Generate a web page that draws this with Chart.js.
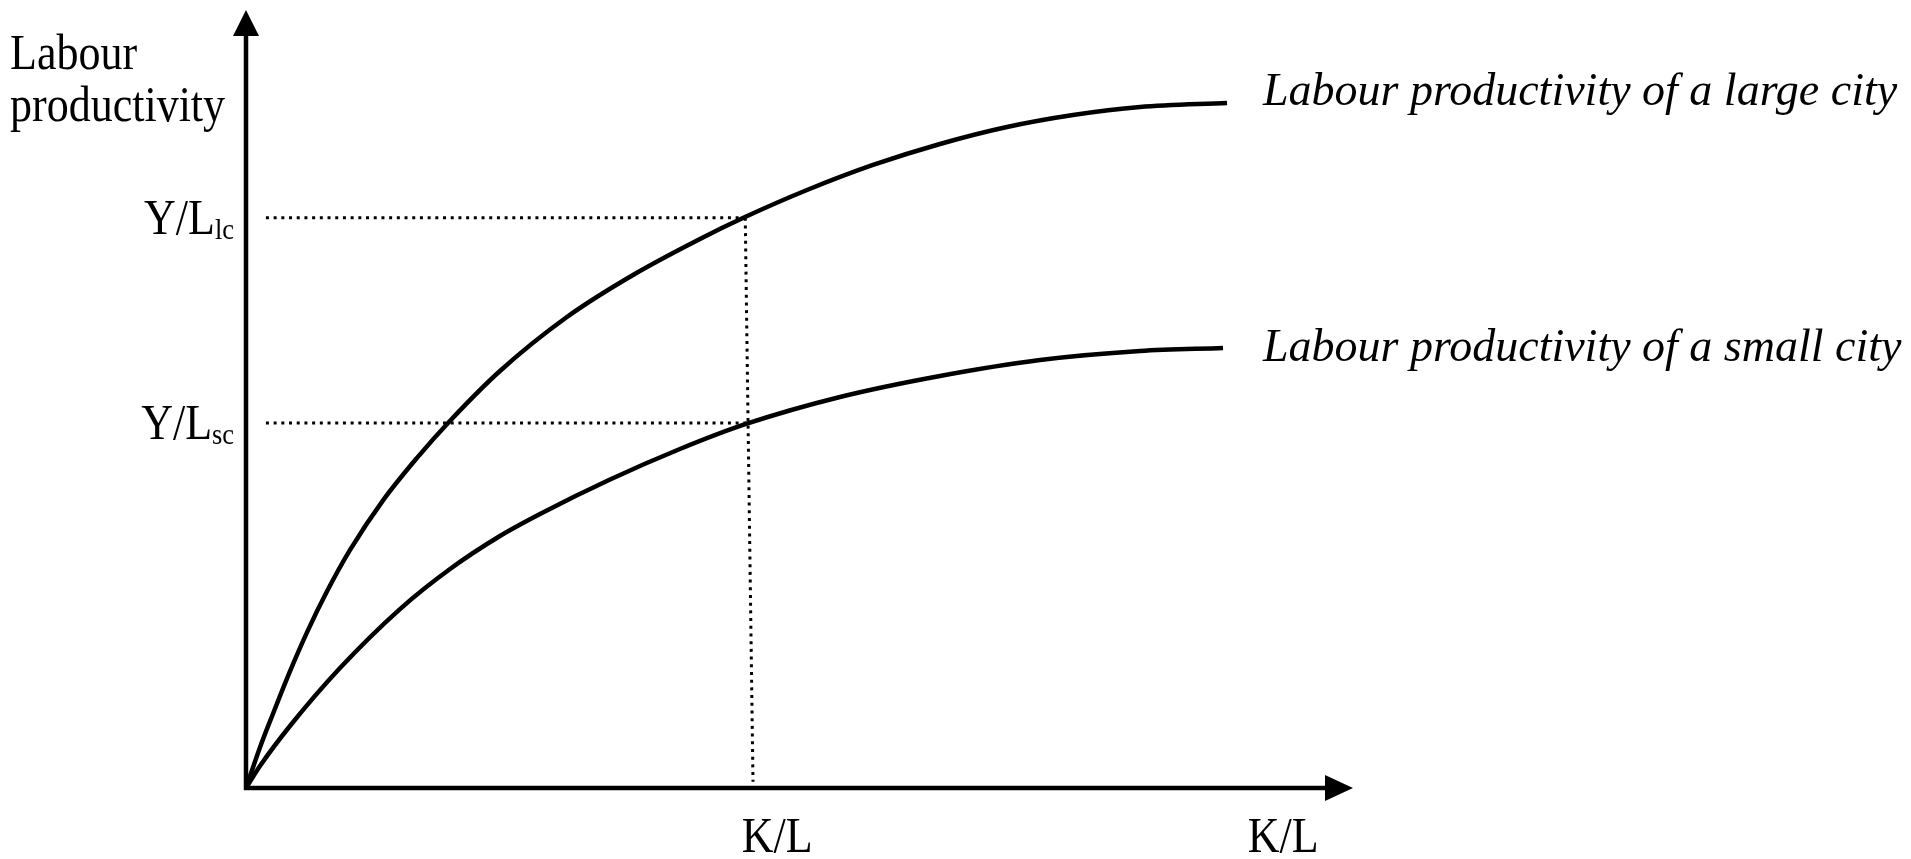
<!DOCTYPE html>
<html>
<head>
<meta charset="utf-8">
<script src="https://cdn.jsdelivr.net/npm/chart.js@4.4.1/dist/chart.umd.min.js"></script>
<style>
  html, body { margin: 0; padding: 0; background: #fff; }
  #wrap { width: 1911px; height: 859px; position: relative; }
</style>
</head>
<body>
<div id="wrap"><canvas id="myChart"></canvas></div>
<script>
// ---------- data (axis units 0..100) ----------
const largeCityX = [0, 1.26, 2.44, 3.97, 5.51, 7.32, 9.40, 12.38, 15.45, 18.25, 22.94, 28.99, 34.96, 41.01, 45.08, 50.68, 56.64, 62.69, 68.74, 74.71, 80.76, 88.62];
const largeCityY = [0, 5.21, 9.55, 14.99, 20.01, 25.28, 30.6, 36.97, 42.43, 46.92, 53.6, 60.54, 65.94, 70.57, 73.39, 76.86, 80.08, 82.78, 84.96, 86.5, 87.53, 88.05];

const smallCityX = [0, 1.26, 3.97, 8.49, 13.91, 18.43, 22.94, 26.56, 32.79, 39.20, 45.17, 53.66, 62.69, 71.73, 80.76, 88.26];
const smallCityY = [0, 2.83, 7.97, 15.42, 23.0, 28.15, 32.39, 35.22, 39.59, 43.57, 46.79, 50.26, 52.96, 55.01, 56.17, 56.56];

const curveLabels = ["Labour productivity of a large city", "Labour productivity of a small city"];

// y "ticks" where the dotted guides meet the axis
const yTickValues = [73.3, 46.9];
const yTickMain = ["Y/L", "Y/L"];
const yTickSub = ["lc", "sc"];

// capital per worker marked on the x axis
const klValue = 45.1;
const xTickLabel = "K/L";
const xAxisTitle = "K/L";
const yAxisTitle = ["Labour", "productivity"];

const toPoints = (xs, ys) => xs.map((x, i) => ({ x: x, y: ys[i] }));

const FONT = '"Liberation Serif", "Times New Roman", serif';

function drawText(ctx, text, x, y, size, opts) {
  opts = opts || {};
  ctx.save();
  ctx.font = (opts.italic ? "italic " : "") + size + "px " + FONT;
  ctx.fillStyle = "#000";
  ctx.textBaseline = "alphabetic";
  ctx.textAlign = opts.align || "left";
  ctx.translate(x, y);
  ctx.scale(opts.sx || 1, 1);
  ctx.fillText(text, 0, 0);
  ctx.restore();
}

function textWidth(ctx, text, size, opts) {
  opts = opts || {};
  ctx.save();
  ctx.font = (opts.italic ? "italic " : "") + size + "px " + FONT;
  const w = ctx.measureText(text).width * (opts.sx || 1);
  ctx.restore();
  return w;
}

// axes with arrow heads and all the text
const diagramPlugin = {
  id: "diagram",
  afterDatasetsDraw(chart) {
    const ctx = chart.ctx;
    const xs = chart.scales.x;
    const ys = chart.scales.y;
    const ox = xs.getPixelForValue(0);
    const oy = ys.getPixelForValue(0);
    const topY = ys.getPixelForValue(100);
    const rightX = xs.getPixelForValue(100);

    ctx.save();
    ctx.strokeStyle = "#000";
    ctx.fillStyle = "#000";
    ctx.lineWidth = 4.5;
    ctx.lineCap = "butt";
    ctx.beginPath();
    ctx.moveTo(ox, oy + 2);
    ctx.lineTo(ox, topY + 24);
    ctx.moveTo(ox - 2, oy);
    ctx.lineTo(rightX - 26, oy);
    ctx.stroke();

    // arrow heads
    ctx.beginPath();
    ctx.moveTo(ox, topY);
    ctx.lineTo(ox - 13, topY + 26);
    ctx.lineTo(ox + 13, topY + 26);
    ctx.closePath();
    ctx.fill();

    ctx.beginPath();
    ctx.moveTo(rightX, oy);
    ctx.lineTo(rightX - 28, oy - 13);
    ctx.lineTo(rightX - 28, oy + 13);
    ctx.closePath();
    ctx.fill();
    ctx.restore();

    const up = { sx: 0.88 };
    const upSize = 50;

    // y axis title
    drawText(ctx, yAxisTitle[0], 10, 69, upSize, up);
    drawText(ctx, yAxisTitle[1], 10, 121, upSize, up);

    // y ticks with subscripts
    yTickValues.forEach((v, i) => {
      const py = ys.getPixelForValue(v);
      const right = ox - 12;
      const subW = textWidth(ctx, yTickSub[i], 30, up);
      drawText(ctx, yTickSub[i], right - subW, py + 21, 30, up);
      drawText(ctx, yTickMain[i], right - subW, py + 16, upSize, { sx: 0.88, align: "right" });
    });

    // x tick and title
    drawText(ctx, xTickLabel, xs.getPixelForValue(klValue) + 32, 852, upSize, { sx: 0.88, align: "center" });
    drawText(ctx, xAxisTitle, xs.getPixelForValue(93.7), 852, upSize, { sx: 0.88, align: "center" });

    // curve labels
    const lastL = largeCityX.length - 1;
    const lastS = smallCityX.length - 1;
    drawText(ctx, curveLabels[0], xs.getPixelForValue(largeCityX[lastL]) + 36, ys.getPixelForValue(largeCityY[lastL]) + 2, 46, { italic: true });
    drawText(ctx, curveLabels[1], xs.getPixelForValue(smallCityX[lastS]) + 40, ys.getPixelForValue(smallCityY[lastS]) + 13, 46, { italic: true });
  }
};

const dotted = {
  borderColor: "#000",
  borderWidth: 3,
  borderDash: [3, 4.7],
  pointRadius: 0,
  fill: false,
  clip: false,
};

const ctx = document.getElementById("myChart").getContext("2d");
const chart = new Chart(ctx, {
  type: "line",
  data: {
    datasets: [
      {
        label: curveLabels[0],
        data: toPoints(largeCityX, largeCityY),
        borderColor: "#000",
        borderWidth: 4.5,
        pointRadius: 0,
        cubicInterpolationMode: "monotone",
        fill: false,
        clip: false,
      },
      {
        label: curveLabels[1],
        data: toPoints(smallCityX, smallCityY),
        borderColor: "#000",
        borderWidth: 4.5,
        pointRadius: 0,
        cubicInterpolationMode: "monotone",
        fill: false,
        clip: false,
      },
      Object.assign({ label: "lc guide", data: [{ x: 1.8, y: yTickValues[0] }, { x: klValue, y: yTickValues[0] }] }, dotted),
      Object.assign({ label: "sc guide", data: [{ x: 1.8, y: yTickValues[1] }, { x: klValue + 0.5, y: yTickValues[1] }] }, dotted),
      Object.assign({ label: "K/L guide", data: [{ x: klValue, y: yTickValues[0] }, { x: klValue + 0.7, y: 0.8 }] }, dotted),
    ],
  },
  options: {
    responsive: true,
    maintainAspectRatio: false,
    animation: false,
    layout: {
      padding: { left: 246, right: 558, top: 10, bottom: 71 },
    },
    scales: {
      x: { type: "linear", min: 0, max: 100, display: false },
      y: { type: "linear", min: 0, max: 100, display: false },
    },
    plugins: {
      legend: { display: false },
      tooltip: { enabled: false },
    },
  },
  plugins: [diagramPlugin],
});
</script>
</body>
</html>
